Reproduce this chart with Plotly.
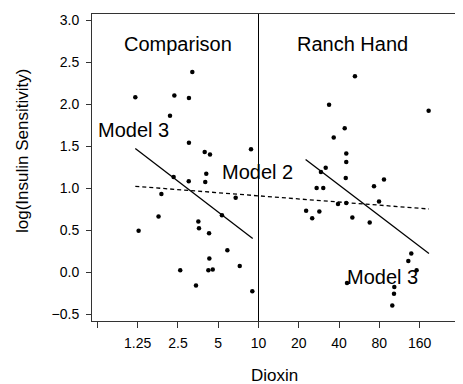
import numpy as np
import plotly.graph_objects as go

# Comparison group (dioxin < 10)
comp_dioxin = [3.20, 1.20, 2.35, 3.02, 2.18, 3.02, 3.96, 4.34, 8.79, 4.07,
               2.32, 3.01, 4.00, 1.88, 6.75, 1.79, 5.33, 3.55, 3.59, 1.27,
               4.27, 5.85, 4.29, 2.60, 4.22, 4.55, 7.24, 3.41, 8.99]
comp_logis = [2.38, 2.08, 2.10, 2.07, 1.86, 1.54, 1.43, 1.40, 1.46, 1.17,
              1.13, 1.08, 1.07, 0.93, 0.885, 0.66, 0.675, 0.60, 0.52, 0.49,
              0.46, 0.26, 0.16, 0.02, 0.02, 0.03, 0.07, -0.16, -0.23]

# Ranch Hand group (dioxin > 10)
rh_dioxin = [52.6, 33.7, 187, 44.1, 36.5, 45.3, 45.3, 31.8, 29.3, 44.9,
             86.7, 27.2, 30.5, 73.0, 79.6, 39.3, 45.3, 22.7, 28.5, 25.2,
             50.3, 67.8, 138.7, 131.8, 152, 45.9, 103.6, 103, 100]
rh_logis = [2.33, 1.99, 1.92, 1.71, 1.60, 1.41, 1.31, 1.24, 1.19, 1.12,
            1.10, 1.00, 1.00, 1.02, 0.84, 0.81, 0.82, 0.73, 0.72, 0.64,
            0.65, 0.59, 0.22, 0.13, 0.02, -0.13, -0.18, -0.26, -0.40]

# Model fits (endpoints)
m3_comp_x = [1.20, 9.05]
m3_comp_y = [1.47, 0.40]
m3_rh_x = [22.5, 188]
m3_rh_y = [1.34, 0.22]
m2_x = [1.20, 188]
m2_y = [1.02, 0.75]

tick_vals = [0.625, 1.25, 2.5, 5, 10, 20, 40, 80, 160, 320]
tick_text = ["", "1.25", "2.5", "5", "10", "20", "40", "80", "160", ""]
y_ticks = [-0.5, 0.0, 0.5, 1.0, 1.5, 2.0, 2.5, 3.0]

FONT = "Arial, Liberation Sans, sans-serif"
OFF = 8  # page body margin
W, H = 463 - OFF, 384 - OFF
L, R, T = 92 - OFF, 0, 14 - OFF
B = H - (321 - OFF)

fig = go.Figure()
for xs, ys in [(comp_dioxin, comp_logis), (rh_dioxin, rh_logis)]:
    fig.add_trace(go.Scatter(x=xs, y=ys, mode="markers",
                             marker=dict(color="black", size=4.5),
                             showlegend=False, hoverinfo="skip"))
for xs, ys in [(m3_comp_x, m3_comp_y), (m3_rh_x, m3_rh_y)]:
    fig.add_trace(go.Scatter(x=xs, y=ys, mode="lines",
                             line=dict(color="black", width=1.3),
                             showlegend=False, hoverinfo="skip"))
fig.add_trace(go.Scatter(x=m2_x, y=m2_y, mode="lines",
                         line=dict(color="black", width=1.3, dash="4px,3px"),
                         showlegend=False, hoverinfo="skip"))

fig.add_shape(type="line", xref="x", yref="paper", x0=10, x1=10, y0=0, y1=1,
              line=dict(color="black", width=1))

def px2paper_x(px):
    return (px - OFF - L) / (W - L - R)

def px2paper_y(py):
    return (H - B - (py - OFF)) / (H - T - B)

lab_font = dict(family=FONT, size=20, color="black")
for txt, xv, yv in [("Comparison", 2.51, 2.72), ("Ranch Hand", 50.4, 2.72),
                    ("Model 3", 1.159, 1.69), ("Model 2", 9.86, 1.194),
                    ("Model 3", 83.8, -0.056)]:
    fig.add_annotation(x=np.log10(xv), y=yv, xref="x", yref="y", text=txt,
                       showarrow=False, font=lab_font,
                       xanchor="center", yanchor="middle")

fig.add_annotation(x=px2paper_x(274), y=px2paper_y(375), xref="paper", yref="paper",
                   text="Dioxin", showarrow=False,
                   font=dict(family=FONT, size=17, color="black"),
                   xanchor="center", yanchor="middle")
fig.add_annotation(x=px2paper_x(22), y=px2paper_y(151), xref="paper", yref="paper",
                   text="log(Insulin Sensitivity)", showarrow=False, textangle=-90,
                   font=dict(family=FONT, size=17, color="black"),
                   xanchor="center", yanchor="middle")

fig.update_layout(
    width=W, height=H,
    margin=dict(l=L, r=R, t=T, b=B, pad=0, autoexpand=False),
    paper_bgcolor="white", plot_bgcolor="white",
    font=dict(family=FONT, color="black"),
    xaxis=dict(type="log", range=[-0.2446, 2.5287], automargin=False,
               tickvals=tick_vals, ticktext=tick_text,
               ticks="outside", ticklen=6, tickwidth=1, tickcolor="#333",
               ticklabelstandoff=3,
               showline=True, linecolor="#333", linewidth=1, mirror=True,
               showgrid=False, zeroline=False,
               tickfont=dict(family=FONT, size=14, color="black")),
    yaxis=dict(range=[-0.5833, 3.0714], tickvals=y_ticks, automargin=False,
               tickformat=".1f",
               ticks="outside", ticklen=5, tickwidth=1, tickcolor="#333",
               ticklabelstandoff=4,
               showline=True, linecolor="#333", linewidth=1, mirror=False,
               showgrid=False, zeroline=False,
               tickfont=dict(family=FONT, size=14, color="black")),
)

fig.write_html("out.html")
